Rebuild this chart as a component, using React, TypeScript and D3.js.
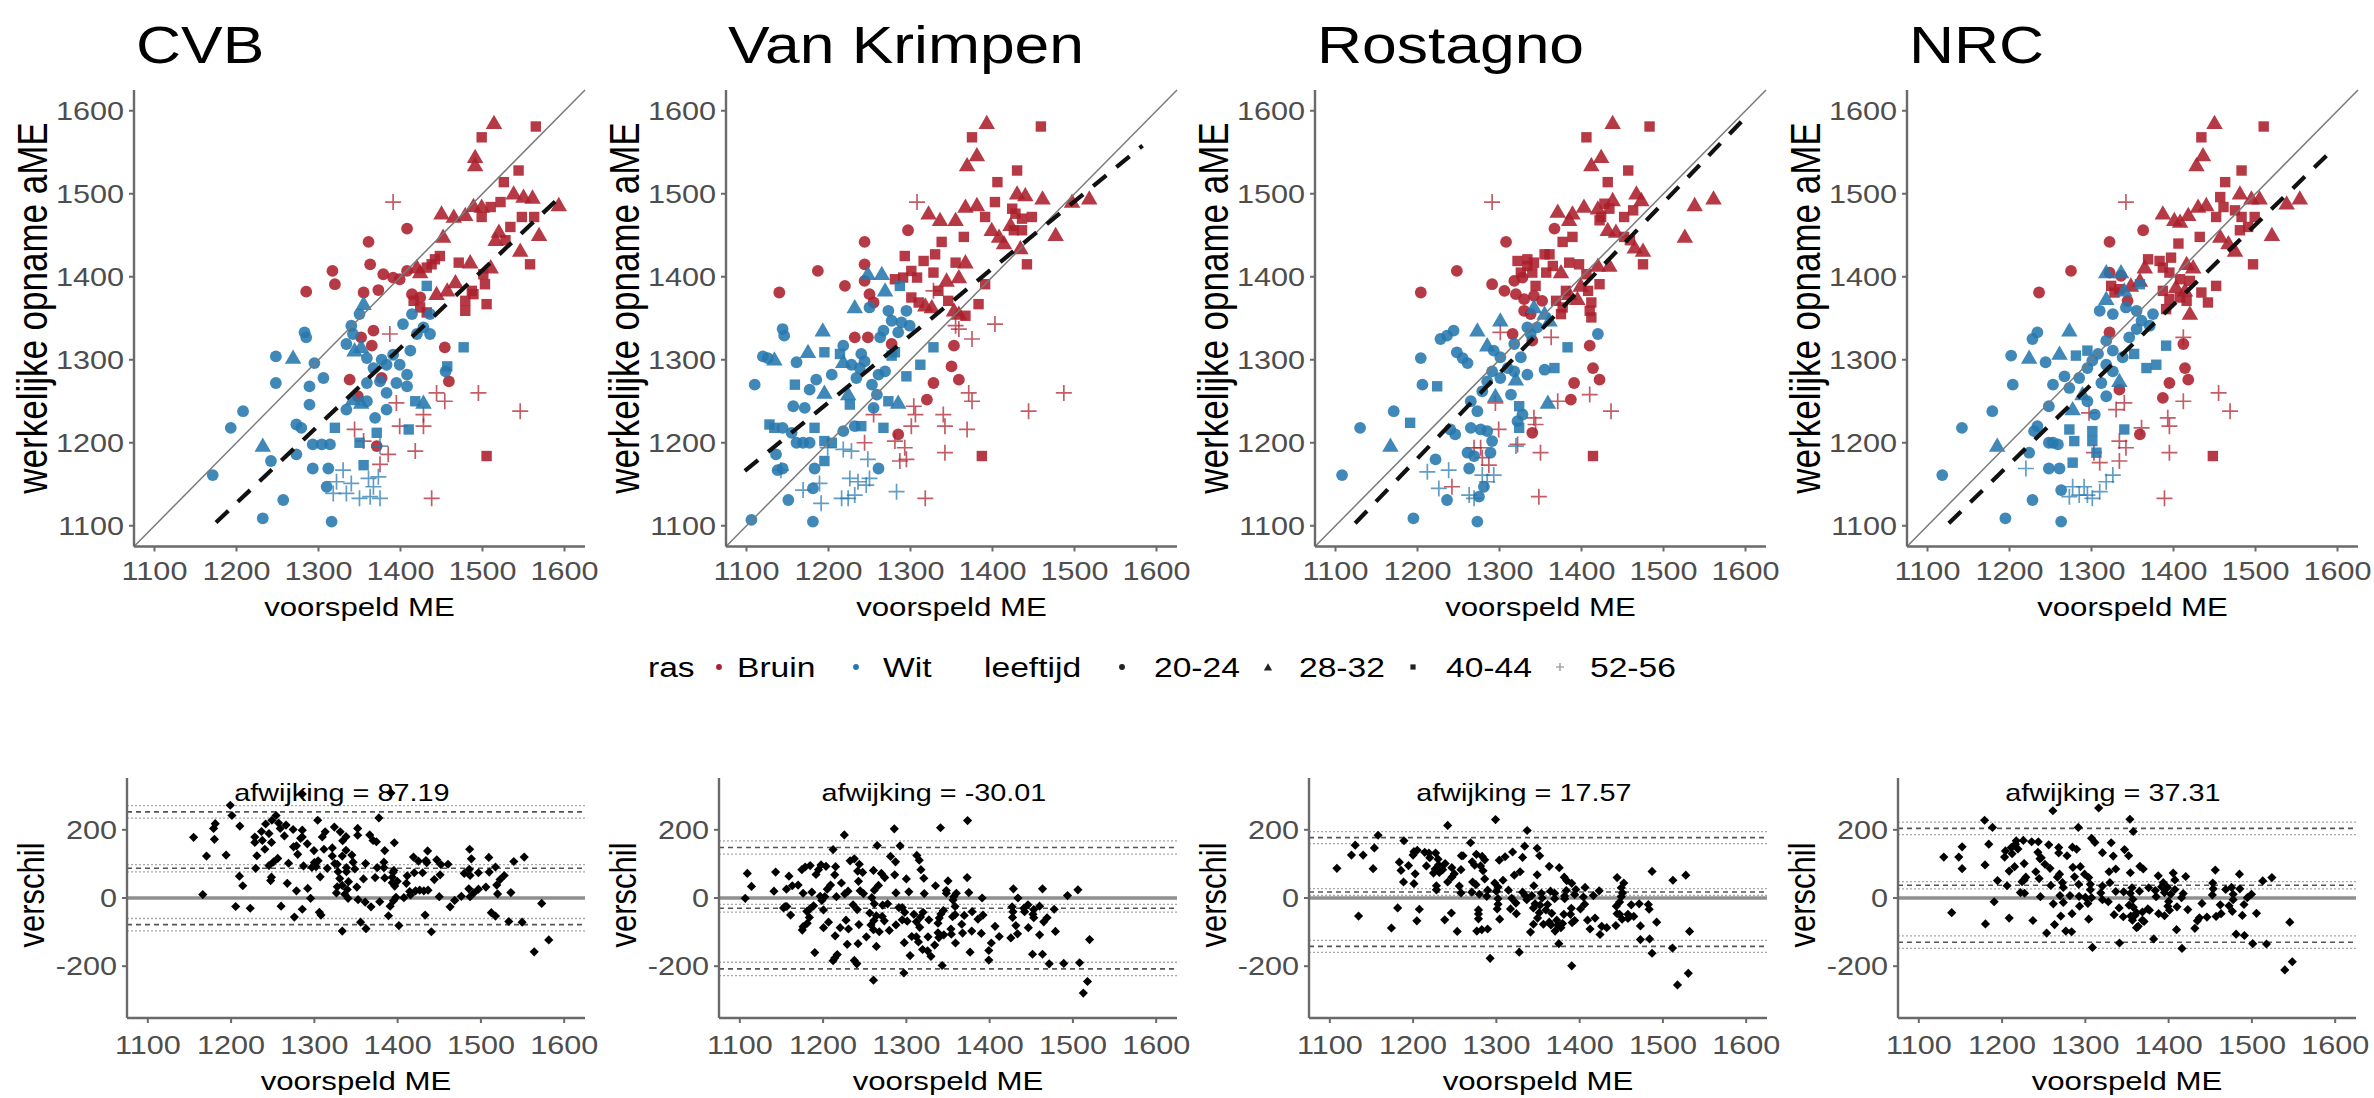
import React from 'react'
import * as d3 from 'd3'

// voorspelde ME tegen werkelijke opname aME, per rekenmodel
// punt: [voorspeld, werkelijk, ras (B = Bruin, W = Wit), leeftijdsklasse-index]
type Punt = [number, number, 'B' | 'W', number]

const W = 2374
const H = 1098
const FONT = "'Liberation Sans', Arial, Helvetica, sans-serif"
const STRETCH = 1.2

const modellen = ['CVB', 'Van Krimpen', 'Rostagno', 'NRC']
const rasLabels = ['Bruin', 'Wit']
const leeftijdLabels = ['20-24', '28-32', '40-44', '52-56']
const asTicks = [1100, 1200, 1300, 1400, 1500, 1600]
const verschilTicks = [-200, 0, 200]
const asLimiet = [1100, 1600]
const verschilLimiet = [-320, 320]

const afwijking = [87.19, -30.01, 17.57, 37.31]
const sdVerschil = [84.4, 90.8, 81.4, 85.2]
const nWaarnemingen = 250

// regressielijn (gestreept), begin- en eindpunt [voorspeld, werkelijk]
const regressieVan = [[1175, 1104], [1098, 1166], [1124, 1103], [1126, 1103]]
const regressieTot = [[1590, 1492], [1583, 1558], [1599, 1591], [1597, 1556]]

const cvbPunten: Punt[] = [
  [1565,1581,'B',2],[1514,1585,'B',1],[1499,1568,'B',2],[1491,1544,'B',1],[1491,1534,'B',1],[1544,1528,'B',2],
  [1526,1514,'B',2],[1538,1500,'B',1],[1550,1496,'B',1],[1561,1495,'B',1],[1593,1486,'B',1],[1522,1490,'B',2],
  [1510,1484,'B',2],[1499,1484,'B',1],[1489,1485,'B',1],[1450,1476,'B',1],[1465,1472,'B',1],[1479,1474,'B',1],
  [1499,1472,'B',2],[1563,1472,'B',2],[1548,1472,'B',2],[1534,1460,'B',2],[1520,1454,'B',1],[1569,1450,'B',1],
  [1546,1431,'B',1],[1558,1415,'B',2],[1528,1444,'B',2],[1516,1444,'B',1],[1452,1448,'B',1],[1442,1421,'B',2],
  [1448,1425,'B',2],[1438,1415,'B',2],[1432,1411,'B',2],[1471,1417,'B',2],[1485,1417,'B',1],[1510,1411,'B',1],
  [1501,1403,'B',2],[1467,1393,'B',1],[1503,1391,'B',2],[1487,1383,'B',2],[1489,1379,'B',2],[1479,1371,'B',2],
  [1457,1383,'B',1],[1444,1379,'B',1],[1505,1367,'B',2],[1479,1359,'B',2],
  [1408,1458,'B',0],[1361,1442,'B',0],[1363,1415,'B',0],[1317,1407,'B',0],[1320,1391,'B',0],[1285,1382,'B',0],
  [1355,1381,'B',0],[1373,1384,'B',0],[1379,1403,'B',0],[1391,1399,'B',0],[1399,1397,'B',0],[1408,1407,'B',0],
  [1420,1411,'B',1],[1424,1405,'B',1],[1414,1379,'B',0],[1424,1375,'B',0],[1416,1371,'B',2],[1424,1363,'B',2],
  [1432,1357,'B',2],[1367,1335,'B',0],[1365,1317,'B',0],[1454,1315,'B',0],[1459,1274,'B',0],[1352,1327,'B',0],
  [1338,1276,'B',0],[1377,1278,'B',0],[1348,1256,'B',0],[1505,1184,'B',2],[1371,1196,'B',0],
  [1391,1490,'B',3],[1387,1331,'B',3],[1395,1248,'B',3],[1399,1220,'B',3],[1428,1220,'B',3],[1418,1190,'B',3],
  [1444,1260,'B',3],[1454,1250,'B',3],[1495,1260,'B',3],[1546,1238,'B',3],[1438,1133,'B',3],[1385,1186,'B',3],
  [1355,1202,'B',3],[1344,1216,'B',3],[1375,1174,'B',3],[1428,1234,'B',3],
  [1612,1492,'B',1],[1485,1643,'B',2],[1520,1643,'B',1],
  [1171,1161,'W',0],[1193,1218,'W',0],[1208,1238,'W',0],[1232,1109,'W',0],[1257,1131,'W',0],[1232,1196,'W',1],
  [1242,1178,'W',0],[1248,1304,'W',0],[1269,1302,'W',1],[1248,1272,'W',0],[1283,1333,'W',0],[1285,1327,'W',0],
  [1295,1296,'W',0],[1289,1268,'W',0],[1306,1278,'W',0],[1289,1246,'W',0],[1273,1222,'W',0],[1279,1218,'W',0],
  [1293,1198,'W',0],[1304,1198,'W',0],[1314,1198,'W',0],[1293,1169,'W',0],[1312,1169,'W',0],[1316,1105,'W',0],
  [1273,1186,'W',0],[1320,1218,'W',2],[1310,1147,'W',0],
  [1318,1139,'W',3],[1334,1139,'W',3],[1350,1133,'W',3],[1363,1135,'W',3],[1375,1133,'W',3],[1322,1153,'W',3],
  [1340,1151,'W',3],[1367,1147,'W',3],[1373,1159,'W',3],[1361,1157,'W',3],[1330,1167,'W',3],[1375,1196,'W',3],
  [1355,1173,'W',2],[1350,1200,'W',2],[1371,1212,'W',2],[1410,1216,'W',2],[1418,1250,'W',2],[1428,1248,'W',1],
  [1457,1292,'W',2],[1477,1315,'W',2],[1455,1286,'W',0],
  [1334,1319,'W',0],[1342,1331,'W',0],[1344,1311,'W',1],[1352,1315,'W',1],[1359,1302,'W',0],[1367,1290,'W',0],
  [1377,1300,'W',0],[1383,1294,'W',0],[1391,1306,'W',0],[1399,1294,'W',0],[1408,1282,'W',0],[1359,1272,'W',0],
  [1375,1274,'W',0],[1383,1260,'W',0],[1395,1272,'W',0],[1408,1268,'W',0],[1412,1311,'W',0],[1420,1331,'W',0],
  [1428,1339,'W',0],[1436,1331,'W',0],[1414,1355,'W',0],[1403,1343,'W',0],[1436,1355,'W',0],[1432,1389,'W',2],
  [1355,1367,'W',1],[1350,1355,'W',0],[1340,1341,'W',0],[1342,1252,'W',1],[1352,1248,'W',1],[1334,1240,'W',0],
  [1359,1250,'W',0],[1369,1230,'W',0],[1383,1240,'W',0],
  [1335,1063,'W',3],[1322,1080,'W',3],[1290,1072,'W',0],[1281,1077,'W',0],[1244,1066,'W',0],[1266,1094,'W',0],
]

const vkPunten: Punt[] = [
  [1393,1585,'B',1],[1459,1581,'B',2],[1375,1568,'B',2],[1381,1546,'B',1],[1369,1534,'B',1],[1430,1528,'B',2],
  [1406,1514,'B',2],[1430,1500,'B',1],[1440,1498,'B',1],[1461,1494,'B',1],[1497,1490,'B',1],[1518,1494,'B',1],
  [1403,1490,'B',2],[1381,1486,'B',1],[1367,1484,'B',1],[1391,1472,'B',2],[1322,1476,'B',1],[1336,1468,'B',1],
  [1355,1468,'B',1],[1424,1482,'B',2],[1428,1476,'B',2],[1436,1470,'B',2],[1448,1472,'B',2],[1422,1462,'B',1],
  [1426,1456,'B',2],[1436,1456,'B',2],[1477,1450,'B',1],[1365,1448,'B',2],[1338,1442,'B',2],[1399,1456,'B',1],
  [1408,1448,'B',1],[1414,1440,'B',1],[1434,1434,'B',1],[1442,1415,'B',2],
  [1297,1456,'B',0],[1244,1442,'B',0],[1187,1407,'B',0],[1140,1381,'B',0],[1220,1389,'B',0],[1244,1415,'B',0],
  [1293,1425,'B',2],[1316,1419,'B',2],[1330,1427,'B',2],[1355,1417,'B',2],[1367,1417,'B',1],[1301,1407,'B',2],
  [1291,1399,'B',2],[1308,1399,'B',2],[1328,1405,'B',2],[1281,1397,'B',2],[1344,1395,'B',1],[1359,1399,'B',1],
  [1391,1391,'B',2],[1334,1383,'B',2],[1244,1395,'B',0],[1250,1379,'B',0],[1255,1369,'B',0],[1301,1375,'B',2],
  [1310,1369,'B',2],[1318,1365,'B',1],[1326,1363,'B',1],[1346,1371,'B',2],[1383,1367,'B',2],[1359,1355,'B',1],
  [1353,1359,'B',1],[1367,1353,'B',2],[1232,1327,'B',0],[1248,1327,'B',0],[1277,1319,'B',0],[1353,1317,'B',0],
  [1350,1292,'B',0],[1359,1276,'B',0],[1328,1272,'B',0],[1320,1252,'B',0],[1285,1210,'B',0],
  [1308,1490,'B',3],[1328,1383,'B',3],[1355,1341,'B',3],[1359,1337,'B',3],[1375,1325,'B',3],[1403,1343,'B',3],
  [1371,1260,'B',3],[1375,1250,'B',3],[1487,1260,'B',3],[1444,1238,'B',3],[1340,1234,'B',3],[1342,1220,'B',3],
  [1369,1216,'B',3],[1304,1244,'B',3],[1306,1234,'B',3],[1301,1220,'B',3],[1255,1234,'B',3],[1281,1202,'B',3],
  [1293,1194,'B',3],[1295,1180,'B',3],[1244,1200,'B',3],[1342,1188,'B',3],[1318,1133,'B',3],[1287,1178,'B',3],
  [1387,1184,'B',2],
  [1373,1652,'B',2],[1395,1640,'B',1],[1413,1603,'B',1],
  [1106,1107,'W',0],[1110,1270,'W',0],[1181,1105,'W',0],[1151,1131,'W',0],[1181,1145,'W',0],[1183,1169,'W',0],
  [1136,1186,'W',0],[1144,1337,'W',0],[1146,1329,'W',0],[1120,1304,'W',0],[1126,1302,'W',0],[1134,1300,'W',1],
  [1193,1335,'W',1],[1175,1309,'W',1],[1195,1309,'W',2],[1161,1297,'W',0],[1159,1270,'W',2],[1177,1264,'W',0],
  [1185,1276,'W',0],[1204,1282,'W',0],[1195,1260,'W',1],[1157,1244,'W',0],[1171,1242,'W',0],[1128,1222,'W',2],
  [1134,1218,'W',2],[1144,1218,'W',0],[1155,1212,'W',0],[1161,1200,'W',0],[1169,1200,'W',0],[1177,1200,'W',0],
  [1183,1218,'W',2],[1195,1202,'W',2],[1204,1200,'W',2],[1195,1178,'W',2],[1138,1167,'W',0],[1144,1169,'W',0],
  [1226,1246,'W',2],[1218,1214,'W',0],[1232,1220,'W',0],[1261,1169,'W',0],
  [1142,1167,'W',3],[1169,1143,'W',3],[1191,1127,'W',3],[1189,1151,'W',3],[1216,1133,'W',3],[1224,1133,'W',3],
  [1232,1137,'W',3],[1226,1157,'W',3],[1236,1153,'W',3],[1246,1149,'W',3],[1250,1157,'W',3],[1218,1192,'W',3],
  [1228,1190,'W',3],[1248,1180,'W',3],[1283,1141,'W',3],[1199,1194,'W',3],
  [1248,1403,'W',1],[1265,1403,'W',1],[1269,1383,'W',1],[1287,1389,'W',2],[1232,1363,'W',1],[1250,1363,'W',0],
  [1273,1359,'W',0],[1277,1347,'W',0],[1295,1359,'W',0],[1299,1341,'W',0],[1289,1345,'W',0],[1285,1333,'W',0],
  [1267,1335,'W',0],[1263,1327,'W',0],[1240,1307,'W',0],[1244,1298,'W',0],[1238,1290,'W',0],[1228,1294,'W',0],
  [1218,1297,'W',1],[1214,1307,'W',2],[1218,1317,'W',0],[1234,1278,'W',0],[1224,1258,'W',1],[1261,1282,'W',0],
  [1269,1286,'W',0],[1253,1270,'W',0],[1259,1258,'W',0],[1277,1305,'W',2],[1281,1309,'W',2],[1328,1315,'W',2],
  [1312,1294,'W',2],[1295,1280,'W',2],[1273,1250,'W',2],[1285,1248,'W',1],[1267,1218,'W',2],[1255,1242,'W',0],
  [1240,1220,'W',2],
  [1145,1073,'W',0],[1131,1097,'W',0],
]

const rostagnoPunten: Punt[] = [
  [1438,1585,'B',1],[1483,1581,'B',2],[1406,1568,'B',2],[1424,1544,'B',1],[1412,1534,'B',1],[1457,1528,'B',2],
  [1432,1514,'B',2],[1561,1494,'B',1],[1538,1486,'B',1],[1526,1448,'B',1],[1467,1500,'B',1],[1473,1492,'B',1],
  [1463,1480,'B',2],[1452,1472,'B',2],[1438,1492,'B',1],[1428,1488,'B',2],[1434,1482,'B',2],[1420,1482,'B',1],
  [1424,1472,'B',2],[1422,1468,'B',2],[1403,1484,'B',1],[1389,1476,'B',1],[1371,1478,'B',1],[1385,1468,'B',1],
  [1367,1458,'B',0],[1389,1448,'B',2],[1377,1442,'B',2],[1432,1456,'B',1],[1442,1454,'B',1],[1452,1448,'B',2],
  [1459,1444,'B',2],[1465,1435,'B',1],[1475,1431,'B',1],[1475,1415,'B',2],
  [1308,1442,'B',0],[1248,1407,'B',0],[1204,1381,'B',0],
  [1322,1419,'B',2],[1334,1421,'B',2],[1342,1417,'B',2],[1355,1427,'B',2],[1361,1427,'B',2],[1334,1413,'B',2],
  [1340,1405,'B',2],[1326,1405,'B',2],[1357,1405,'B',2],[1365,1413,'B',2],[1375,1405,'B',1],[1385,1417,'B',2],
  [1397,1415,'B',2],[1434,1413,'B',1],[1420,1413,'B',1],[1406,1403,'B',2],
  [1318,1395,'B',0],[1328,1399,'B',0],[1291,1391,'B',0],[1306,1383,'B',0],[1320,1379,'B',0],[1330,1373,'B',0],
  [1344,1389,'B',2],[1342,1377,'B',0],[1352,1371,'B',0],[1381,1383,'B',2],[1395,1373,'B',1],[1385,1379,'B',1],
  [1408,1383,'B',2],[1412,1369,'B',2],[1399,1389,'B',1],[1422,1391,'B',2],[1369,1371,'B',2],[1377,1363,'B',2],
  [1375,1355,'B',2],[1410,1359,'B',2],[1412,1351,'B',2],[1330,1359,'B',0],[1338,1355,'B',0],
  [1410,1317,'B',0],[1414,1290,'B',0],[1422,1276,'B',0],[1391,1272,'B',0],[1387,1252,'B',0],[1340,1323,'B',0],
  [1316,1331,'B',0],[1414,1184,'B',2],[1340,1212,'B',0],
  [1291,1490,'B',3],[1363,1327,'B',3],[1301,1333,'B',3],[1410,1258,'B',3],[1371,1250,'B',3],[1436,1238,'B',3],
  [1342,1230,'B',3],[1344,1222,'B',3],[1299,1216,'B',3],[1322,1198,'B',3],[1350,1188,'B',3],[1277,1194,'B',3],
  [1279,1182,'B',3],[1295,1248,'B',3],[1348,1135,'B',3],[1242,1147,'B',3],[1287,1173,'B',3],[1269,1194,'B',3],
  [1390,1645,'B',2],[1420,1641,'B',1],
  [1108,1161,'W',0],[1130,1218,'W',0],[1171,1238,'W',0],[1195,1109,'W',0],[1273,1105,'W',0],[1167,1196,'W',1],
  [1191,1224,'W',2],[1204,1302,'W',0],[1206,1270,'W',0],[1224,1268,'W',2],[1228,1325,'W',0],[1236,1329,'W',0],
  [1244,1335,'W',0],[1273,1335,'W',1],[1248,1309,'W',0],[1255,1302,'W',0],[1261,1296,'W',0],[1222,1180,'W',0],
  [1240,1216,'W',0],[1246,1210,'W',0],[1265,1218,'W',0],[1277,1216,'W',0],[1285,1214,'W',0],[1261,1188,'W',0],
  [1269,1184,'W',0],[1263,1169,'W',0],[1236,1131,'W',0],[1275,1135,'W',0],[1281,1147,'W',0],[1291,1202,'W',0],
  [1289,1188,'W',0],
  [1212,1165,'W',3],[1238,1167,'W',3],[1226,1145,'W',3],[1263,1137,'W',3],[1269,1133,'W',3],[1279,1161,'W',3],
  [1285,1153,'W',3],[1293,1161,'W',3],[1320,1196,'W',3],
  [1301,1347,'W',1],[1285,1317,'W',1],[1293,1311,'W',0],[1301,1303,'W',0],[1318,1319,'W',0],[1326,1303,'W',0],
  [1338,1331,'W',0],[1342,1363,'W',1],[1355,1355,'W',1],[1361,1347,'W',1],[1334,1339,'W',0],[1346,1339,'W',0],
  [1310,1290,'W',0],[1291,1286,'W',0],[1285,1274,'W',0],[1279,1262,'W',0],[1301,1278,'W',0],[1318,1286,'W',0],
  [1320,1276,'W',1],[1334,1282,'W',0],[1355,1288,'W',0],[1367,1290,'W',2],[1383,1315,'W',2],[1420,1331,'W',0],
  [1314,1258,'W',0],[1295,1256,'W',1],[1265,1250,'W',0],[1273,1238,'W',0],[1324,1244,'W',2],[1328,1234,'W',0],
  [1322,1226,'W',0],[1324,1218,'W',2],[1359,1248,'W',1],
  [1250,1066,'W',0],[1208,1053,'W',0],[1152,1065,'W',0],[1189,1063,'W',0],[1203,1077,'W',0],[1227,1080,'W',0],
]

const nrcPunten: Punt[] = [
  [1450,1585,'B',1],[1510,1581,'B',2],[1434,1568,'B',2],[1436,1546,'B',1],[1428,1534,'B',1],[1483,1528,'B',2],
  [1463,1514,'B',2],[1554,1494,'B',1],[1538,1488,'B',1],[1520,1450,'B',1],[1387,1476,'B',1],[1401,1468,'B',1],
  [1408,1466,'B',1],[1418,1474,'B',1],[1430,1484,'B',1],[1440,1486,'B',1],[1432,1448,'B',2],[1457,1496,'B',2],
  [1481,1500,'B',1],[1495,1494,'B',1],[1505,1494,'B',1],[1461,1484,'B',2],[1475,1480,'B',2],[1483,1472,'B',2],
  [1452,1472,'B',2],[1499,1472,'B',2],[1491,1460,'B',2],[1457,1448,'B',1],[1467,1440,'B',1],[1475,1431,'B',1],
  [1497,1415,'B',2],[1481,1456,'B',2],
  [1363,1456,'B',0],[1322,1442,'B',0],[1275,1407,'B',0],[1236,1381,'B',0],
  [1406,1440,'B',2],[1369,1421,'B',2],[1383,1419,'B',2],[1397,1423,'B',2],[1365,1411,'B',1],[1359,1395,'B',1],
  [1387,1411,'B',2],[1395,1405,'B',2],[1416,1415,'B',1],[1424,1411,'B',1],[1408,1397,'B',2],[1420,1395,'B',2],
  [1322,1405,'B',0],[1336,1401,'B',0],[1324,1389,'B',2],[1328,1381,'B',2],[1334,1385,'B',2],[1348,1389,'B',1],
  [1403,1387,'B',1],[1414,1383,'B',1],[1434,1381,'B',2],[1442,1369,'B',2],[1452,1389,'B',2],[1408,1375,'B',2],
  [1416,1371,'B',2],[1420,1355,'B',1],[1387,1383,'B',2],[1395,1373,'B',2],[1391,1361,'B',2],[1344,1371,'B',0],
  [1412,1319,'B',0],[1414,1290,'B',0],[1418,1276,'B',0],[1395,1272,'B',0],[1387,1254,'B',0],[1322,1333,'B',0],
  [1334,1264,'B',0],[1359,1210,'B',0],[1448,1184,'B',2],
  [1342,1490,'B',3],[1412,1327,'B',3],[1455,1260,'B',3],[1469,1238,'B',3],[1412,1250,'B',3],[1393,1230,'B',3],
  [1395,1220,'B',3],[1395,1188,'B',3],[1389,1133,'B',3],[1330,1240,'B',3],[1340,1248,'B',3],[1334,1202,'B',3],
  [1334,1178,'B',3],[1342,1194,'B',3],[1303,1188,'B',3],[1310,1176,'B',3],[1361,1218,'B',3],[1297,1236,'B',3],
  [1434,1645,'B',2],[1455,1642,'B',1],
  [1118,1161,'W',0],[1142,1218,'W',0],[1179,1238,'W',0],[1195,1109,'W',0],[1263,1105,'W',0],[1185,1196,'W',1],
  [1228,1131,'W',0],[1202,1305,'W',0],[1204,1270,'W',0],[1224,1302,'W',1],[1228,1325,'W',0],[1234,1333,'W',0],
  [1273,1335,'W',1],[1261,1307,'W',1],[1244,1297,'W',0],[1281,1305,'W',2],[1295,1311,'W',2],[1234,1220,'W',0],
  [1230,1214,'W',0],[1248,1200,'W',0],[1253,1200,'W',0],[1259,1198,'W',0],[1248,1169,'W',0],[1261,1169,'W',0],
  [1263,1143,'W',0],[1273,1216,'W',2],[1279,1202,'W',2],[1277,1176,'W',2],[1224,1188,'W',0],
  [1220,1169,'W',3],[1277,1147,'W',3],[1285,1137,'W',3],[1295,1137,'W',3],[1301,1133,'W',3],[1310,1141,'W',3],
  [1318,1153,'W',3],[1326,1161,'W',3],[1291,1147,'W',3],[1273,1135,'W',3],
  [1301,1214,'W',2],[1301,1202,'W',2],[1306,1188,'W',2],[1304,1234,'W',0],[1340,1216,'W',2],
  [1318,1405,'W',1],[1336,1405,'W',1],[1340,1383,'W',1],[1359,1391,'W',2],[1310,1359,'W',0],[1318,1373,'W',1],
  [1326,1355,'W',0],[1342,1363,'W',0],[1355,1359,'W',0],[1361,1347,'W',0],[1375,1355,'W',0],[1371,1341,'W',0],
  [1355,1337,'W',0],[1346,1327,'W',0],[1318,1323,'W',0],[1326,1311,'W',0],[1308,1307,'W',0],[1301,1299,'W',0],
  [1295,1290,'W',0],[1285,1278,'W',0],[1273,1266,'W',0],[1267,1280,'W',0],[1253,1270,'W',0],[1318,1294,'W',0],
  [1326,1286,'W',0],[1312,1272,'W',0],[1334,1274,'W',1],[1352,1307,'W',2],[1367,1290,'W',2],[1379,1294,'W',2],
  [1391,1317,'W',2],[1338,1303,'W',0],[1289,1258,'W',1],[1277,1240,'W',1],[1295,1250,'W',0],[1318,1256,'W',0],
  [1248,1244,'W',0],
  [1293,1065,'W',0],[1292,1085,'W',0],[1227,1077,'W',0],[1208,1088,'W',0],[1190,1070,'W',0],
]

const alleData = [cvbPunten, vkPunten, rostagnoPunten, nrcPunten]

const rasKleur: Record<string, string> = { B: '#ab1f2b', W: '#2677ad' }
const asKleur = '#6a6a6a'
const tickTekstKleur = '#4d4d4d'

// layout
const bovenLinks = [134, 726, 1315, 1907]
const bovenBreedte = 451
const bovenTop = 90
const bovenOnder = 546.5
const onderLinks = [127, 719, 1309, 1898]
const onderBreedte = 458
const onderTop = 778
const onderOnder = 1018

function Tekst({ x, y, size, anchor = 'start', fill = '#000', rot = 0, children }: any) {
  const t = rot
    ? `translate(${x},${y}) rotate(${rot}) scale(1,${STRETCH})`
    : `translate(${x},${y}) scale(${STRETCH},1)`
  return (
    <text transform={t} fontSize={size} textAnchor={anchor} fill={fill} fontFamily={FONT}>
      {children}
    </text>
  )
}

function Symbool({ x, y, leeftijd, kleur, schaal = 1, opacity = 0.88 }: any) {
  if (leeftijd === 0) return <circle cx={x} cy={y} r={5.9 * schaal} fill={kleur} fillOpacity={opacity} />
  if (leeftijd === 1) {
    const d = d3.symbol(d3.symbolTriangle, 118 * schaal * schaal)() as string
    return <path transform={`translate(${x},${y + 1})`} d={d} fill={kleur} fillOpacity={opacity} />
  }
  if (leeftijd === 2) {
    const s = 10.4 * schaal
    return <rect x={x - s / 2} y={y - s / 2} width={s} height={s} fill={kleur} fillOpacity={opacity} />
  }
  const h = 8 * schaal
  return (
    <path d={`M${x - h},${y}H${x + h}M${x},${y - h}V${y + h}`} stroke={kleur}
      strokeWidth={1.7} strokeOpacity={0.72} fill="none" />
  )
}

function BovenPaneel({ i }: { i: number }) {
  const L = bovenLinks[i]
  const x = d3.scaleLinear().domain([1075, 1625]).range([L, L + bovenBreedte])
  const y = d3.scaleLinear().domain([1075, 1625]).range([bovenOnder, bovenTop])
  const punten = alleData[i].filter(
    (p) => p[0] >= asLimiet[0] && p[0] <= asLimiet[1] && p[1] >= asLimiet[0] && p[1] <= asLimiet[1]
  )
  const lijn = d3.line<number[]>().x((d) => x(d[0])).y((d) => y(d[1]))
  return (
    <g>
      <Tekst x={L + 2} y={63} size={52}>{modellen[i]}</Tekst>
      {punten.map((p, k) => (
        <Symbool key={k} x={x(p[0])} y={y(p[1])} leeftijd={p[3]} kleur={rasKleur[p[2]]} />
      ))}
      <path d={lijn([[1075, 1075], [1625, 1625]]) as string} stroke="#7a7a7a" strokeWidth={1.5} fill="none" />
      <path d={lijn([regressieVan[i], regressieTot[i]]) as string} stroke="#111" strokeWidth={4.2}
        strokeDasharray="17,13" fill="none" />
      <line x1={L} x2={L} y1={bovenTop} y2={bovenOnder} stroke={asKleur} strokeWidth={2.4} />
      <line x1={L} x2={L + bovenBreedte} y1={bovenOnder} y2={bovenOnder} stroke={asKleur} strokeWidth={2.4} />
      {asTicks.map((t) => (
        <g key={'y' + t}>
          <line x1={L - 5} x2={L} y1={y(t)} y2={y(t)} stroke={asKleur} strokeWidth={2} />
          <Tekst x={L - 10} y={y(t) + 9} size={25.5} anchor="end" fill={tickTekstKleur}>{t}</Tekst>
        </g>
      ))}
      {asTicks.map((t) => (
        <g key={'x' + t}>
          <line x1={x(t)} x2={x(t)} y1={bovenOnder} y2={bovenOnder + 5} stroke={asKleur} strokeWidth={2} />
          <Tekst x={x(t)} y={bovenOnder + 33} size={25.5} anchor="middle" fill={tickTekstKleur}>{t}</Tekst>
        </g>
      ))}
      <Tekst x={L + bovenBreedte / 2} y={bovenOnder + 69} size={26} anchor="middle">voorspeld ME</Tekst>
      <Tekst x={L - 87} y={308} size={35} anchor="middle" rot={-90}>
        werkelijke opname aME
      </Tekst>
    </g>
  )
}

function OnderPaneel({ i }: { i: number }) {
  const L = onderLinks[i]
  const x = d3.scaleLinear().domain([1075, 1625]).range([L, L + onderBreedte])
  const y = d3.scaleLinear().domain([-352, 352]).range([onderOnder, onderTop])
  const punten = alleData[i]
    .map((p) => [(p[0] + p[1]) / 2, p[0] - p[1]])
    .filter((p) => p[0] >= asLimiet[0] && p[0] <= asLimiet[1] && p[1] >= verschilLimiet[0] && p[1] <= verschilLimiet[1])
  const bias = afwijking[i]
  const sd = sdVerschil[i]
  const ciBias = (1.96 * sd) / Math.sqrt(nWaarnemingen)
  const ciLoa = 1.96 * sd * Math.sqrt(3 / nWaarnemingen)
  const gestreept = [bias, bias + 1.96 * sd, bias - 1.96 * sd]
  const gestippeld = [
    bias - ciBias, bias + ciBias,
    bias + 1.96 * sd - ciLoa, bias + 1.96 * sd + ciLoa,
    bias - 1.96 * sd - ciLoa, bias - 1.96 * sd + ciLoa,
  ]
  const ruit = d3.symbol(d3.symbolSquare, 42)() as string
  return (
    <g>
      <line x1={L} x2={L + onderBreedte} y1={y(0)} y2={y(0)} stroke="#8f8f8f" strokeWidth={3.4} />
      {gestippeld.map((v, k) => (
        <line key={'d' + k} x1={L} x2={L + onderBreedte} y1={y(v)} y2={y(v)} stroke="#a8a8a8"
          strokeWidth={1.3} strokeDasharray="2,2" />
      ))}
      {gestreept.map((v, k) => (
        <line key={'s' + k} x1={L} x2={L + onderBreedte} y1={y(v)} y2={y(v)} stroke="#555"
          strokeWidth={1.6} strokeDasharray="5,4" />
      ))}
      {punten.map((p, k) => (
        <path key={k} d={ruit} transform={`translate(${x(p[0])},${y(p[1])}) rotate(45)`} fill="#000" />
      ))}
      <Tekst x={x(1333)} y={y(285)} size={24} anchor="middle">{`afwijking = ${bias.toFixed(2)}`}</Tekst>
      <line x1={L} x2={L} y1={onderTop} y2={onderOnder} stroke={asKleur} strokeWidth={2.4} />
      <line x1={L} x2={L + onderBreedte} y1={onderOnder} y2={onderOnder} stroke={asKleur} strokeWidth={2.4} />
      {verschilTicks.map((t) => (
        <g key={'y' + t}>
          <line x1={L - 5} x2={L} y1={y(t)} y2={y(t)} stroke={asKleur} strokeWidth={2} />
          <Tekst x={L - 10} y={y(t) + 9} size={25.5} anchor="end" fill={tickTekstKleur}>{t}</Tekst>
        </g>
      ))}
      {asTicks.map((t) => (
        <g key={'x' + t}>
          <line x1={x(t)} x2={x(t)} y1={onderOnder} y2={onderOnder + 5} stroke={asKleur} strokeWidth={2} />
          <Tekst x={x(t)} y={onderOnder + 36} size={25.5} anchor="middle" fill={tickTekstKleur}>{t}</Tekst>
        </g>
      ))}
      <Tekst x={L + onderBreedte / 2} y={onderOnder + 72} size={26} anchor="middle">voorspeld ME</Tekst>
      <Tekst x={L - 83} y={(onderTop + onderOnder) / 2 - 3} size={31} anchor="middle" rot={-90}>verschil</Tekst>
    </g>
  )
}

function Legenda() {
  const cy = 667
  const by = 677
  const fs = 28
  return (
    <g>
      <Tekst x={648} y={by} size={fs}>ras</Tekst>
      <circle cx={719} cy={cy} r={2.9} fill={rasKleur.B} />
      <Tekst x={737} y={by} size={fs}>{rasLabels[0]}</Tekst>
      <circle cx={856} cy={cy} r={2.9} fill={rasKleur.W} />
      <Tekst x={883} y={by} size={fs}>{rasLabels[1]}</Tekst>
      <Tekst x={984} y={by} size={fs}>leeftijd</Tekst>
      {leeftijdLabels.map((lab, k) => {
        const sx = [1122, 1268, 1413, 1560][k]
        const tx = [1154, 1299, 1446, 1590][k]
        return (
          <g key={lab}>
            <Symbool x={sx} y={cy} leeftijd={k} kleur={k === 3 ? '#888' : '#222'} schaal={0.5} opacity={1} />
            <Tekst x={tx} y={by} size={fs}>{lab}</Tekst>
          </g>
        )
      })}
    </g>
  )
}

export default function App() {
  return (
    <svg width={W} height={H} viewBox={`0 0 ${W} ${H}`}
      style={{ position: 'absolute', left: 0, top: 0, background: '#fff', display: 'block' }}>
      <rect width={W} height={H} fill="#fff" />
      {modellen.map((m, i) => <BovenPaneel key={m} i={i} />)}
      <Legenda />
      {modellen.map((m, i) => <OnderPaneel key={m} i={i} />)}
    </svg>
  )
}
